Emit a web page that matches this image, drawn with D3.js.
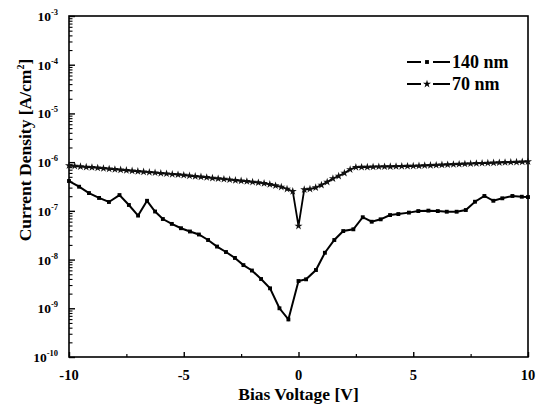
<!DOCTYPE html>
<html>
<head>
<meta charset="utf-8">
<script src="https://cdn.jsdelivr.net/npm/d3@7"></script>
<style>
  html, body { margin: 0; padding: 0; background: #fff; }
  svg { display: block; }
  text { font-family: "Liberation Serif", "Times New Roman", serif; font-weight: bold; fill: #000; }
</style>
</head>
<body>
<svg id="chart" width="536" height="412"></svg>
<script>
// ---- data ----
const voltage140 = [-10, -9.56, -9.13, -8.69, -8.26, -7.8, -7.39, -6.99, -6.6, -6.25,
  -5.91, -5.52, -5.12, -4.73, -4.34, -3.94, -3.55, -3.16, -2.77, -2.4,
  -2.03, -1.63, -1.24, -0.83, -0.44, 0,
  0.33, 0.76, 1.15, 1.56, 1.95, 2.39, 2.8, 3.19, 3.58, 3.99,
  4.35, 4.81, 5.22, 5.66, 6.07, 6.46, 6.89, 7.29, 7.69, 8.1,
  8.49, 8.88, 9.32, 9.73, 10];
const current140 = [4.1e-7, 3.13e-7, 2.32e-7, 1.84e-7, 1.52e-7, 2.11e-7, 1.32e-7, 8.0e-8, 1.61e-7, 9.7e-8,
  6.8e-8, 5.4e-8, 4.4e-8, 3.77e-8, 3.27e-8, 2.52e-8, 1.85e-8, 1.43e-8, 1.08e-8, 7.7e-9,
  5.96e-9, 3.99e-9, 2.57e-9, 1.0e-9, 5.9e-10, 3.63e-9,
  3.93e-9, 6.1e-9, 1.38e-8, 2.52e-8, 3.85e-8, 4.18e-8, 7.4e-8, 5.98e-8, 6.7e-8, 8.2e-8,
  8.6e-8, 9.2e-8, 9.9e-8, 1.01e-7, 9.9e-8, 9.6e-8, 9.6e-8, 1.04e-7, 1.54e-7, 2.02e-7,
  1.61e-7, 1.81e-7, 2.02e-7, 1.95e-7, 1.92e-7];

const voltage70 = [-10, -9.75, -9.5, -9.25, -9, -8.75, -8.5, -8.25, -8, -7.75,
  -7.5, -7.25, -7, -6.75, -6.5, -6.25, -6, -5.75, -5.5, -5.25,
  -5, -4.75, -4.5, -4.25, -4, -3.75, -3.5, -3.25, -3, -2.75,
  -2.5, -2.25, -2, -1.75, -1.5, -1.25, -1, -0.75, -0.5, -0.25,
  0,
  0.25, 0.5, 0.75, 1, 1.25, 1.5, 1.75, 2, 2.25, 2.5,
  2.75, 3, 3.25, 3.5, 3.75, 4, 4.25, 4.5, 4.75, 5,
  5.25, 5.5, 5.75, 6, 6.25, 6.5, 6.75, 7, 7.25, 7.5,
  7.75, 8, 8.25, 8.5, 8.75, 9, 9.25, 9.5, 9.75, 10];
const current70 = [8.53e-7, 8.33e-7, 8.13e-7, 7.94e-7, 7.80e-7, 7.61e-7, 7.44e-7, 7.26e-7, 7.09e-7, 6.96e-7,
  6.80e-7, 6.64e-7, 6.48e-7, 6.33e-7, 6.21e-7, 6.07e-7, 5.92e-7, 5.79e-7, 5.65e-7, 5.55e-7,
  5.42e-7, 5.26e-7, 5.12e-7, 5.00e-7, 4.86e-7, 4.72e-7, 4.59e-7, 4.48e-7, 4.36e-7, 4.24e-7,
  4.14e-7, 4.02e-7, 3.91e-7, 3.80e-7, 3.68e-7, 3.51e-7, 3.30e-7, 3.09e-7, 2.81e-7, 2.52e-7,
  4.89e-8,
  2.74e-7, 2.81e-7, 3.01e-7, 3.39e-7, 3.91e-7, 4.61e-7, 5.19e-7, 5.98e-7, 7.06e-7, 7.87e-7,
  7.91e-7, 7.94e-7, 7.98e-7, 8.06e-7, 8.10e-7, 8.13e-7, 8.17e-7, 8.25e-7, 8.29e-7, 8.33e-7,
  8.41e-7, 8.53e-7, 8.61e-7, 8.69e-7, 8.82e-7, 8.90e-7, 8.98e-7, 9.11e-7, 9.20e-7, 9.29e-7,
  9.42e-7, 9.51e-7, 9.60e-7, 9.69e-7, 9.78e-7, 9.87e-7, 9.97e-7, 1.006e-6, 1.016e-6, 1.025e-6];

const xTickMajor = [-10, -5, 0, 5, 10];
const xTickMinor = [-7.5, -2.5, 2.5, 7.5];
const yDecadeExponents = [-10, -9, -8, -7, -6, -5, -4, -3];
const seriesNames = ["140 nm", "70 nm"];
const xTitle = "Bias Voltage [V]";
const yTitle = "Current Density ";

// ---- layout ----
const svg = d3.select("#chart");
const L = 69, R = 528, T = 16, B = 357;

const x = d3.scaleLinear().domain([-10, 10]).range([L, R]);
const y = d3.scaleLog().domain([1e-10, 1e-3]).range([B, T]);

// frame
svg.append("rect").attr("x", L).attr("y", T).attr("width", R - L).attr("height", B - T)
  .attr("fill", "none").attr("stroke", "#000").attr("stroke-width", 1.6);

// y axis: major + minor ticks pointing inward
const decades = yDecadeExponents.map(e => Math.pow(10, e));
const minor = y.ticks().filter(v => !decades.some(d => Math.abs(d - v) / d < 1e-6));
svg.append("g").attr("transform", `translate(${L},0)`)
  .call(d3.axisLeft(y).tickValues(decades).tickSizeInner(-6).tickSizeOuter(0).tickFormat(""))
  .call(g => g.select(".domain").remove())
  .call(g => g.selectAll("line").attr("stroke-width", 1.4));
svg.append("g").attr("transform", `translate(${L},0)`)
  .call(d3.axisLeft(y).tickValues(minor).tickSizeInner(-3.5).tickSizeOuter(0).tickFormat(""))
  .call(g => g.select(".domain").remove())
  .call(g => g.selectAll("line").attr("stroke-width", 1.1));

// y tick labels 10^n
const yl = svg.append("g");
yDecadeExponents.forEach(e => {
  const t = yl.append("text").attr("x", 58).attr("y", y(Math.pow(10, e)) + 5)
    .attr("text-anchor", "end").attr("font-size", 13.5);
  t.append("tspan").text("10");
  t.append("tspan").attr("dy", -6).attr("font-size", 8.5).text("-" + Math.abs(e));
});

// x axis ticks inward
svg.append("g").attr("transform", `translate(0,${B})`)
  .call(d3.axisBottom(x).tickValues(xTickMajor).tickSizeInner(-5).tickSizeOuter(0).tickFormat(""))
  .call(g => g.select(".domain").remove())
  .call(g => g.selectAll("line").attr("stroke-width", 1.4));
svg.append("g").attr("transform", `translate(0,${B})`)
  .call(d3.axisBottom(x).tickValues(xTickMinor).tickSizeInner(-3).tickSizeOuter(0).tickFormat(""))
  .call(g => g.select(".domain").remove())
  .call(g => g.selectAll("line").attr("stroke-width", 1.2));

svg.append("g").selectAll("text").data(xTickMajor).join("text")
  .attr("x", d => x(d)).attr("y", 380).attr("text-anchor", "middle").attr("font-size", 14.5)
  .text(d => d);

// axis titles
svg.append("text").attr("x", (L + R) / 2).attr("y", 400).attr("text-anchor", "middle")
  .attr("font-size", 17.5).text(xTitle);
const yt = svg.append("text").attr("transform", "translate(31,150) rotate(-90)")
  .attr("text-anchor", "middle").attr("font-size", 17.5);
yt.append("tspan").text(yTitle + "[A/cm");
yt.append("tspan").attr("dy", -7).attr("font-size", 10).text("2");
yt.append("tspan").attr("dy", 7).text("]");

// data
const d140 = voltage140.map((v, i) => [v, current140[i]]);
const d70 = voltage70.map((v, i) => [v, current70[i]]);
const line = d3.line().x(d => x(d[0])).y(d => y(d[1]));

svg.append("path").datum(d70).attr("d", line).attr("fill", "none")
  .attr("stroke", "#000").attr("stroke-width", 1.8);
svg.append("path").datum(d140).attr("d", line).attr("fill", "none")
  .attr("stroke", "#000").attr("stroke-width", 2);

const star = d3.symbol().type(d3.symbolStar).size(20);
const sq = d3.symbol().type(d3.symbolSquare).size(15);
svg.append("g").selectAll("path").data(d70).join("path")
  .attr("transform", d => `translate(${x(d[0])},${y(d[1])})`)
  .attr("d", star).attr("fill", "#111");
svg.append("g").selectAll("path").data(d140).join("path")
  .attr("transform", d => `translate(${x(d[0])},${y(d[1])})`)
  .attr("d", sq).attr("fill", "#000");

// legend
const legY = [62, 84];
const leg = svg.append("g");
seriesNames.forEach((name, i) => {
  const g = leg.append("g");
  g.append("line").attr("x1", 407).attr("x2", 421).attr("y1", legY[i]).attr("y2", legY[i])
    .attr("stroke", "#000").attr("stroke-width", 2);
  g.append("line").attr("x1", 433).attr("x2", 450).attr("y1", legY[i]).attr("y2", legY[i])
    .attr("stroke", "#000").attr("stroke-width", 2);
  g.append("path").attr("transform", `translate(427,${legY[i]})`)
    .attr("d", i === 0 ? sq : star).attr("fill", "#000");
  g.append("text").attr("x", 452).attr("y", legY[i] + 6).attr("font-size", 18).text(name);
});
</script>
</body>
</html>
